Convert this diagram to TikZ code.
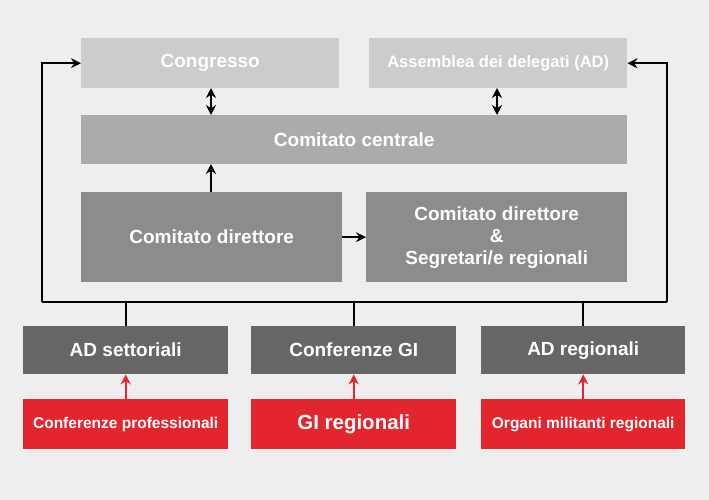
\documentclass[tikz,border=0pt]{standalone}
\usepackage{fontspec}
\setmainfont{Liberation Sans}
\usetikzlibrary{arrows.meta}
\definecolor{bg}{HTML}{EEEEEE}
\definecolor{c1}{HTML}{CCCCCC}
\definecolor{c2}{HTML}{ABABAB}
\definecolor{c3}{HTML}{8C8C8C}
\definecolor{c4}{HTML}{666666}
\definecolor{rd}{HTML}{E3262E}
\tikzset{
 bx/.style={inner sep=0pt,text=white,font=\bfseries\fontsize{19}{22}\selectfont,align=center},
 ln/.style={line width=2pt,black},
 ar/.style={ln,-{Stealth[length=10pt,width=10pt]}},
 dar/.style={ln,{Stealth[length=10pt,width=10pt]}-{Stealth[length=10pt,width=10pt]}},
 rar/.style={line width=2pt,rd,-{Stealth[length=10pt,width=10pt]}}
}
\begin{document}
\begin{tikzpicture}
\fill[bg] (0,0) rectangle (709pt,-500pt);
\node[bx,fill=c1,minimum width=258pt,minimum height=50pt,anchor=north west] (cong) at (81pt,-38pt) {Congresso};
\node[bx,fill=c1,minimum width=258pt,minimum height=50pt,anchor=north west,font=\bfseries\fontsize{16.5}{20}\selectfont] (ad) at (369pt,-38pt) {Assemblea dei delegati (AD)};
\node[bx,fill=c2,minimum width=546pt,minimum height=49pt,anchor=north west] (cc) at (81pt,-115pt) {Comitato centrale};
\node[bx,fill=c3,minimum width=261pt,minimum height=90pt,anchor=north west] (cd) at (81pt,-192pt) {Comitato direttore};
\node[bx,fill=c3,minimum width=261pt,minimum height=90pt,anchor=north west] (cds) at (366pt,-192pt) {Comitato direttore\\\&\\Segretari/e regionali};
\node[bx,fill=c4,minimum width=205pt,minimum height=48pt,anchor=north west] (ads) at (23pt,-326pt) {AD settoriali};
\node[bx,fill=c4,minimum width=205pt,minimum height=48pt,anchor=north west] (cgi) at (251pt,-326pt) {Conferenze GI};
\node[bx,fill=c4,minimum width=204pt,minimum height=48pt,anchor=north west] (adr) at (481pt,-326pt) {AD regionali};
\node[bx,fill=rd,minimum width=205pt,minimum height=50pt,anchor=north west,font=\bfseries\fontsize{15.5}{18}\selectfont] (cp) at (23pt,-399pt) {Conferenze professionali};
\node[bx,fill=rd,minimum width=205pt,minimum height=50pt,anchor=north west,font=\bfseries\fontsize{20.5}{24}\selectfont] (gir) at (251pt,-399pt) {GI regionali};
\node[bx,fill=rd,minimum width=204pt,minimum height=50pt,anchor=north west,font=\bfseries\fontsize{15.5}{18}\selectfont] (om) at (481pt,-399pt) {Organi militanti regionali};
\coordinate (bl) at (42pt,-302pt);
\coordinate (br) at (667pt,-302pt);
\draw[ln] (bl) -- (br);
\draw[ar] (bl) |- (cong.west);
\draw[ar] (br) |- (ad.east);
\draw[ln] (ads.north) -- (ads.north|-bl);
\draw[ln] (cgi.north) -- (cgi.north|-bl);
\draw[ln] (adr.north) -- (adr.north|-bl);
\draw[dar] (211pt,-88pt) -- (211pt,-115pt);
\draw[dar] (497pt,-88pt) -- (497pt,-115pt);
\draw[ar] (211pt,-192pt) -- (211pt,-164pt);
\draw[ar] (cd.east) -- (cds.west);
\draw[rar] (cp.north) -- (ads.south);
\draw[rar] (gir.north) -- (cgi.south);
\draw[rar] (om.north) -- (adr.south);
\end{tikzpicture}
\end{document}
